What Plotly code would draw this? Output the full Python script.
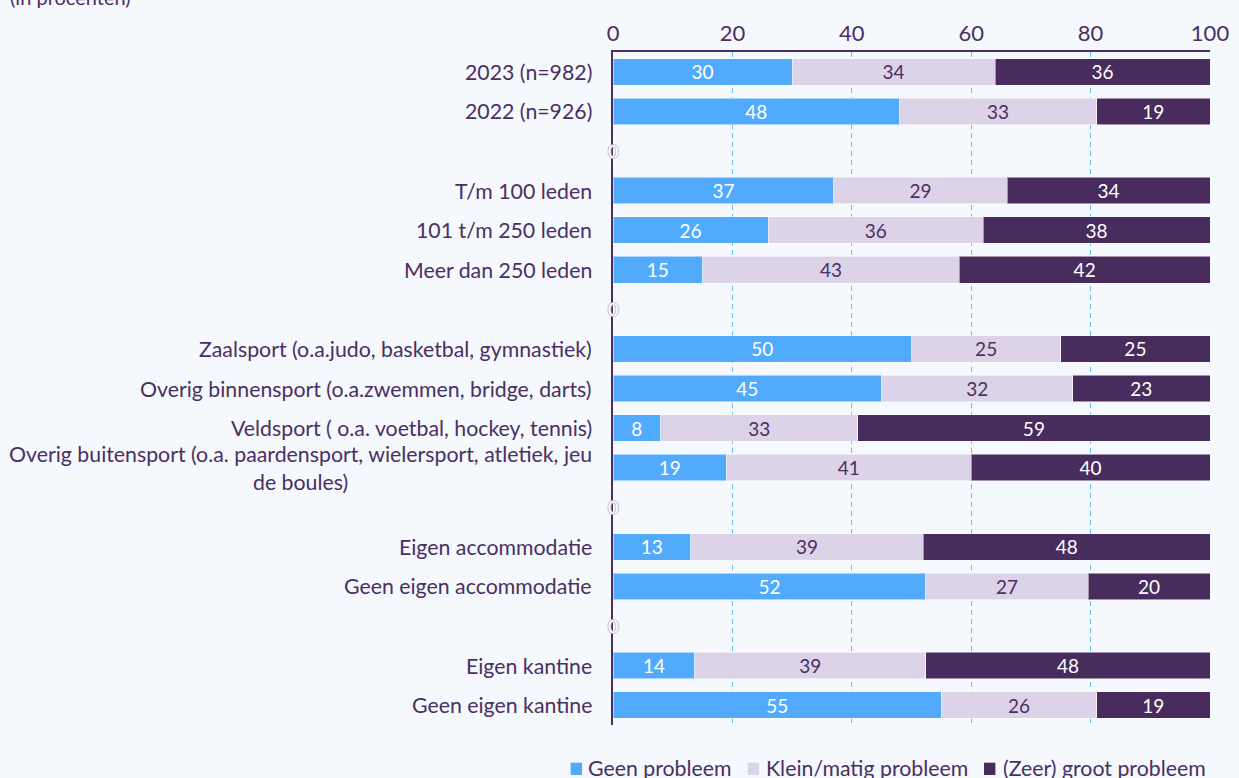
import plotly.graph_objects as go

categories = [
    "2023 (n=982)", "2022 (n=926)", "sep1",
    "T/m 100 leden", "101 t/m 250 leden", "Meer dan 250 leden", "sep2",
    "Zaalsport (o.a.judo, basketbal, gymnastiek)",
    "Overig binnensport (o.a.zwemmen, bridge, darts)",
    "Veldsport ( o.a. voetbal, hockey, tennis)",
    "Overig buitensport (o.a. paardensport, wielersport, atletiek, jeu<br>de boules)",
    "sep3",
    "Eigen accommodatie", "Geen eigen accommodatie", "sep4",
    "Eigen kantine", "Geen eigen kantine",
]
geen = [30, 48, 0, 37, 26, 15, 0, 50, 45, 8, 19, 0, 13, 52.4, 0, 13.7, 55]
klein = [34, 33, 0, 29, 36, 43, 0, 25, 32, 33, 41, 0, 39, 27.2, 0, 38.7, 26]
groot = [36, 19, 0, 34, 38, 42, 0, 25, 23, 59, 40, 0, 48, 20.4, 0, 47.6, 19]
series_names = ["Geen probleem", "Klein/matig probleem", "(Zeer) groot probleem"]
tick_values = [0, 20, 40, 60, 80, 100]

BG = "#f5f8fd"
TXT = "#4a2f63"
colors = ["#52aafd", "#dcd3e8", "#482c5e"]
label_colors = ["white", TXT, "white"]

fig = go.Figure()
for name, vals, col, lc in zip(series_names, [geen, klein, groot], colors, label_colors):
    texts = [str(round(v)) if not c.startswith("sep") else "" for v, c in zip(vals, categories)]
    fig.add_trace(go.Bar(
        y=categories, x=vals, name=name, orientation="h",
        marker=dict(color=col, line=dict(color="rgba(255,255,255,0.5)", width=1)),
        text=texts, textposition="inside", insidetextanchor="middle", textangle=0,
        constraintext="none",
        textfont=dict(color=lc, size=19, family="Lato"),
        hoverinfo="skip", showlegend=False,
    ))

# category labels as annotations (centered multi-line like reference)
for c in categories:
    if c.startswith("sep"):
        fig.add_annotation(x=0, y=c, xref="x", yref="y", text="0", showarrow=False,
                           font=dict(size=18, color="#ffffff", family="Lato",
                                     shadow="1px 0 #c4bccf, -1px 0 #c4bccf, 0 1px #c4bccf, 0 -1px #c4bccf"),
                           xanchor="center", yanchor="middle")
    else:
        fig.add_annotation(x=0, y=c, xref="paper", yref="y", text=c, showarrow=False,
                           xanchor="right", xshift=-19, align="center",
                           font=dict(size=21.3, color=TXT, family="Lato"))

fig.add_annotation(x=-1.0134, y=1.082, xref="paper", yref="paper", text="(in procenten)",
                   showarrow=False, xanchor="left", yanchor="middle",
                   font=dict(size=20, color=TXT, family="Lato"))

# legend drawn below the plot (squares + labels)
leg_sq_x0 = [-0.0710, 0.2256, 0.6214]
leg_sq_w = 0.0191
leg_txt_x = [-0.0444, 0.2529, 0.6499]
for name, col, sx, tx in zip(series_names, colors, leg_sq_x0, leg_txt_x):
    fig.add_shape(type="rect", xref="paper", yref="paper", x0=sx, x1=sx + leg_sq_w,
                  y0=-0.0743, y1=-0.0560, fillcolor=col, line=dict(width=0))
    fig.add_annotation(x=tx, y=-0.0639, xref="paper", yref="paper", text=name,
                       showarrow=False, xanchor="left", yanchor="middle",
                       font=dict(size=21.3, color=TXT, family="Lato"))

fig.update_layout(
    barmode="stack", bargap=0.33,
    width=1239, height=778,
    margin=dict(l=613, r=29, t=52, b=53, autoexpand=False),
    paper_bgcolor=BG, plot_bgcolor=BG,
    font=dict(family="Lato", color=TXT, size=20),
    showlegend=False,
    xaxis=dict(range=[0, 100], side="top", tickvals=tick_values, showgrid=True,
               gridcolor="#63c1f7", griddash="5px,4px", gridwidth=1.2,
               showline=True, linecolor=TXT, linewidth=2, mirror=False,
               tickfont=dict(size=22, color=TXT), zeroline=False, ticks="", fixedrange=True),
    yaxis=dict(categoryorder="array", categoryarray=categories, autorange="reversed",
               showticklabels=False, showline=True, linecolor=TXT, linewidth=2,
               showgrid=False, ticks="", zeroline=False),
)

fig.write_html("out.html", config={"displayModeBar": False},
               post_script="document.body.style.margin='0';")
